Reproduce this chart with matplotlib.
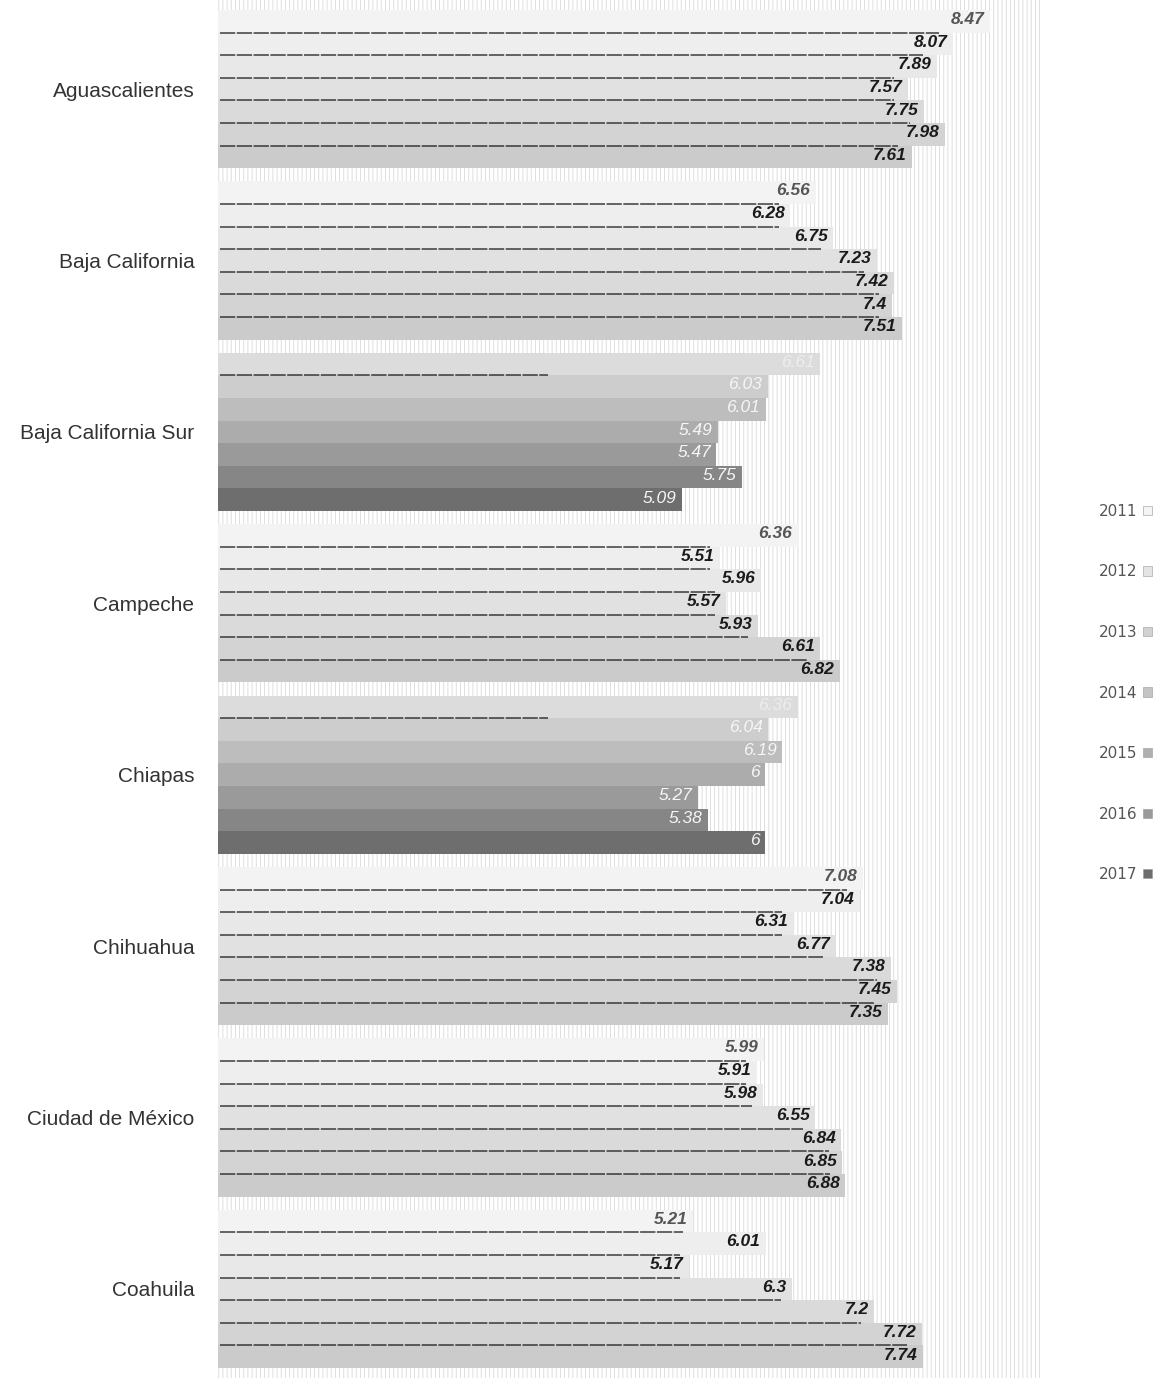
import numpy as np
import matplotlib
matplotlib.use('Agg')
import matplotlib.pyplot as plt
from matplotlib.patches import Rectangle, Patch

# datos
estados = ['Aguascalientes', 'Baja California', 'Baja California Sur', 'Campeche',
           'Chiapas', 'Chihuahua', 'Ciudad de México', 'Coahuila']
anios = ['2011', '2012', '2013', '2014', '2015', '2016', '2017']

ags = [8.47, 8.07, 7.89, 7.57, 7.75, 7.98, 7.61]
bc = [6.56, 6.28, 6.75, 7.23, 7.42, 7.4, 7.51]
bcs = [6.61, 6.03, 6.01, 5.49, 5.47, 5.75, 5.09]
camp = [6.36, 5.51, 5.96, 5.57, 5.93, 6.61, 6.82]
chis = [6.36, 6.04, 6.19, 6, 5.27, 5.38, 6]
chih = [7.08, 7.04, 6.31, 6.77, 7.38, 7.45, 7.35]
cdmx = [5.99, 5.91, 5.98, 6.55, 6.84, 6.85, 6.88]
coah = [5.21, 6.01, 5.17, 6.3, 7.2, 7.72, 7.74]

valores = [ags, bc, bcs, camp, chis, chih, cdmx, coah]

# estilo
claros = ['#f3f3f3', '#eeeeee', '#e8e8e8', '#e1e1e1', '#dadada', '#d3d3d3', '#cbcbcb']
oscuros = ['#dcdcdc', '#cdcdcd', '#bdbdbd', '#acacac', '#9a9a9a', '#868686', '#6e6e6e']
grupos_oscuros = ['Baja California Sur', 'Chiapas']
leyenda_col = ['#f4f4f4', '#e4e4e4', '#d2d2d2', '#c4c4c4', '#b0b0b0', '#9a9a9a', '#6c6c6c']

plt.rcParams['hatch.linewidth'] = 0.6

fig = plt.figure(figsize=(11.68, 13.78), dpi=100)
ax = fig.add_axes([218/1168, 0.0, (1040-218)/1168, 1.0])

h = 0.132
ax.add_patch(Rectangle((0, -0.52), 9.02, 8.04, facecolor='white', edgecolor='#d9d9d9',
                       linewidth=0, hatch='||||', zorder=0))

for i, est in enumerate(estados):
    vals = valores[i]
    oscuro = est in grupos_oscuros
    cols = oscuros if oscuro else claros
    ys = i + (np.arange(7) - 3) * h
    ax.barh(ys, vals, height=h, color=cols, edgecolor='none', zorder=2)
    for j in range(7):
        v = vals[j]
        if oscuro:
            tc = '#f6f6f6' if j > 0 else '#eeeeee'
            fw = 'normal'
        else:
            tc = '#555555' if j == 0 else '#1a1a1a'
            fw = 'bold'
        ax.text(v - 0.06, ys[j] - 0.01, '{:g}'.format(v), ha='right', va='center',
                fontsize=12.5, style='italic', fontweight=fw, color=tc,
                family='Liberation Sans', zorder=4)
    # lineas oscuras entre barras (escaneo)
    for j in range(6):
        if oscuro and j > 0:
            continue
        yb = ys[j] + h / 2
        largo = min(vals[j], vals[j + 1]) * (0.6 if oscuro else 0.98)
        ax.plot([0.02, largo], [yb, yb], color='#1e1e1e', lw=1.1, ls=(0, (10, 1)),
                zorder=3, alpha=0.85)

ax.set_xlim(0, 9.02)
ax.set_ylim(7.52, -0.52)
ax.set_yticks(range(len(estados)))
ax.set_yticklabels(estados, family='Liberation Sans', fontsize=15, color='#333333')
ax.tick_params(axis='y', length=0, pad=17)
ax.set_xticks([])
for s in ax.spines.values():
    s.set_visible(False)

handles = [Patch(facecolor=c, edgecolor='#999999', linewidth=0.4) for c in leyenda_col]
fig.legend(handles, anios, loc='center left', bbox_to_anchor=(1085/1168, 1 - 693/1378),
           frameon=False, markerfirst=False, labelspacing=2.98, handlelength=0.55,
           handleheight=0.55, handletextpad=0.4, prop={'family': 'DejaVu Sans', 'size': 11},
           labelcolor='#555555')

plt.savefig('out.png', dpi=100)
